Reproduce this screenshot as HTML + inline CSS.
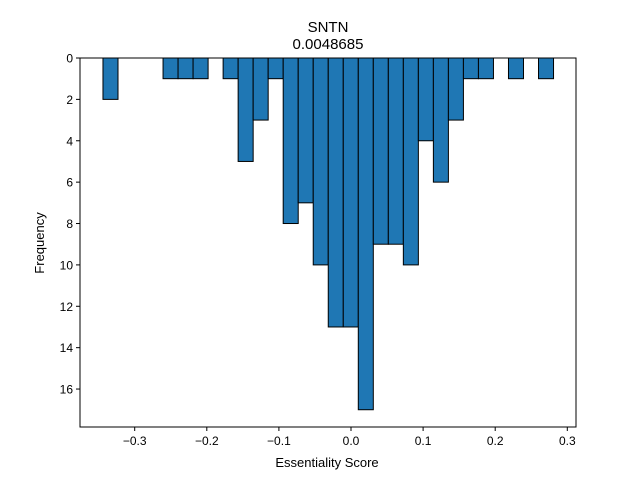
<!DOCTYPE html>
<html><head><meta charset="utf-8"><style>
body{margin:0;background:#fff;}
svg text{font-family:"Liberation Sans","DejaVu Sans",sans-serif;fill:#000;}
</style></head><body>
<svg id="chart" width="640" height="480">
<rect width="640" height="480" fill="#fff"/>
<text x="328" y="32" font-size="15" text-anchor="middle">SNTN</text>
<text x="328" y="49" font-size="15" text-anchor="middle">0.0048685</text>
<g id="bars"></g>
<g id="axes"></g>
<text x="327" y="467" font-size="13" text-anchor="middle">Essentiality Score</text>
<text transform="translate(44,243) rotate(-90)" font-size="13" text-anchor="middle">Frequency</text>
</svg>
<script>
const binStart = -0.344;
const binWidth = 0.02083;
const counts = [2,0,0,0,1,1,1,0,1,5,3,1,8,7,10,13,13,17,9,9,10,4,6,3,1,1,0,1,0,1];
const xTicks = [-0.3,-0.2,-0.1,0.0,0.1,0.2,0.3];
const xTickLabels = ["\u22120.3","\u22120.2","\u22120.1","0.0","0.1","0.2","0.3"];
const yTicks = [0,2,4,6,8,10,12,14,16];

const L=80,R=576,T=58,B=427;
const xs = v => 351 + v*721;
const ys = v => T + v*20.69;
const NS="http://www.w3.org/2000/svg";
const bars=document.getElementById('bars');
counts.forEach((c,i)=>{
  const x0=xs(binStart+i*binWidth), x1=xs(binStart+(i+1)*binWidth);
  const r=document.createElementNS(NS,'rect');
  r.setAttribute('x',x0);r.setAttribute('y',ys(0));
  r.setAttribute('width',x1-x0);r.setAttribute('height',ys(c)-ys(0));
  r.setAttribute('fill','#1f77b4');r.setAttribute('stroke','#000');r.setAttribute('stroke-width','1');
  
  
  bars.appendChild(r);
});
const ax=document.getElementById('axes');
const frame=document.createElementNS(NS,'rect');
frame.setAttribute('x',L);frame.setAttribute('y',T);frame.setAttribute('width',R-L);frame.setAttribute('height',B-T);
frame.setAttribute('fill','none');frame.setAttribute('stroke','#000');frame.setAttribute('stroke-width','1');


ax.appendChild(frame);
xTicks.forEach((v,i)=>{
  const x=xs(v);
  const l=document.createElementNS(NS,'line');
  l.setAttribute('x1',x);l.setAttribute('x2',x);l.setAttribute('y1',B);l.setAttribute('y2',B+4);l.setAttribute('stroke','#000');
  
  
  ax.appendChild(l);
  const t=document.createElementNS(NS,'text');
  t.setAttribute('x',x);t.setAttribute('y',B+18);t.setAttribute('font-size','12');t.setAttribute('text-anchor','middle');
  t.textContent=xTickLabels[i];
  
  
  ax.appendChild(t);
});
yTicks.forEach(v=>{
  const y=ys(v);
  const l=document.createElementNS(NS,'line');
  l.setAttribute('x1',L-4);l.setAttribute('x2',L);l.setAttribute('y1',y);l.setAttribute('y2',y);l.setAttribute('stroke','#000');
  
  
  ax.appendChild(l);
  const t=document.createElementNS(NS,'text');
  t.setAttribute('x',L-7);t.setAttribute('y',y+4.5);t.setAttribute('font-size','12');t.setAttribute('text-anchor','end');
  t.textContent=v;
  
  
  ax.appendChild(t);
});
</script>
</body></html>
